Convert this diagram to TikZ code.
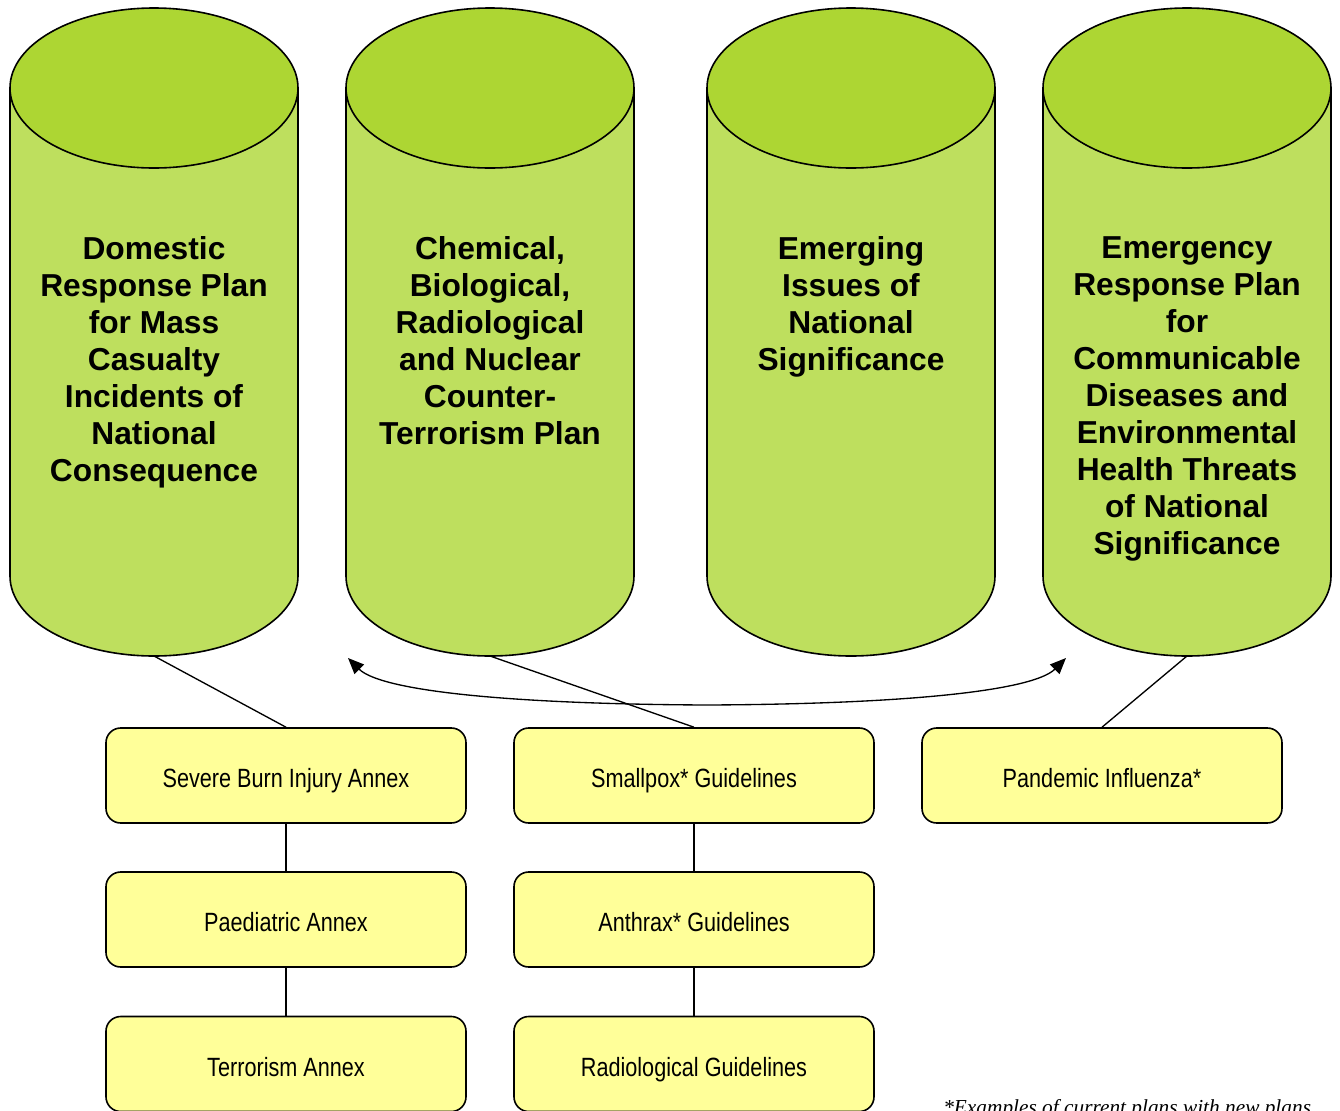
\documentclass[tikz,border=0pt]{standalone}
\usepackage{fontspec}
\setmainfont{Liberation Sans}
\newfontfamily\narrowfont[FakeStretch=0.82]{Liberation Sans}
\newfontfamily\notefont{Liberation Serif}
\usetikzlibrary{arrows.meta}

\definecolor{cyltop}{RGB}{173,214,51}
\definecolor{cylbody}{RGB}{190,223,94}
\definecolor{annexfill}{RGB}{255,255,153}

\tikzset{
  plantext/.style={anchor=north, align=center, inner sep=0pt,
    font=\bfseries\fontsize{23.8}{27.75}\selectfont},
  annex/.style={draw, line width=1.2pt, fill=annexfill, rounded corners=11pt,
    minimum width=270pt, minimum height=71.25pt, inner sep=0pt,
    text height=18.5pt, text depth=0pt,
    font=\narrowfont\fontsize{19.8}{22}\selectfont},
  link/.style={line width=1pt}
}

\begin{document}
\begin{tikzpicture}[x=0.75pt,y=0.75pt,yscale=-1,xscale=1]
\useasboundingbox (0,0) rectangle (1340,1111);

%Shape: Cylinders
\foreach \cx/\nm in {154/c1,490/c2,851/c3,1187/c4}{
  \draw [line width=1.2pt, fill=cylbody] (\cx-144,88) -- (\cx-144,576)
    arc [start angle=180, end angle=0, x radius=144, y radius=80] -- (\cx+144,88) -- cycle;
  \draw [line width=1.2pt, fill=cyltop] (\cx,88) ellipse [x radius=144, y radius=80];
  \coordinate (\nm) at (\cx,656);
}

% Text Node
\node [plantext] (t1) at (154,236) {Domestic\\Response Plan\\for Mass\\Casualty\\Incidents of\\National\\Consequence};
% Text Node
\node [plantext] (t2) at (490,236) {Chemical,\\Biological,\\Radiological\\and Nuclear\\Counter-\\Terrorism Plan};
% Text Node
\node [plantext] (t3) at (851,236) {Emerging\\Issues of\\National\\Significance};
% Text Node
\node [plantext] (t4) at (1187,236) {Emergency\\Response Plan\\for\\Communicable\\Diseases and\\Environmental\\Health Threats\\of National\\Significance};

%Shape: Annex boxes
\node [annex] (burn) at (286,775.5) {Severe Burn Injury Annex};
\node [annex] (paed) at (286,919.5) {Paediatric Annex};
\node [annex] (terror) at (286,1064) {Terrorism Annex};
\node [annex] (smallpox) at (694,775.5) {Smallpox* Guidelines};
\node [annex] (anthrax) at (694,919.5) {Anthrax* Guidelines};
\node [annex] (radio) at (694,1064) {Radiological Guidelines};
\node [annex] (flu) at (1102,775.5) {Pandemic Influenza*};

%Straight Lines
\draw [link] (c1) -- (burn.north);
\draw [link] (c2) -- (smallpox.north);
\draw [link] (c4) -- (flu.north);
\draw [link] (burn) -- (paed);
\draw [link] (paed) -- (terror);
\draw [link] (smallpox) -- (anthrax);
\draw [link] (anthrax) -- (radio);

%Curve Lines
\coordinate (al) at (348,658);
\coordinate (ar) at (1066,658);
\draw [link, {Triangle[length=12pt,width=10pt]}-{Triangle[length=12pt,width=10pt]}] (al) .. controls (380,690) and (500,704) .. (707,705) .. controls (914,704) and (1034,690) .. (ar);

% Text Node
\node [anchor=base west, inner sep=0pt, font=\notefont\itshape\fontsize{16}{19}\selectfont] (note) at (943,1114) {*Examples of current plans with new plans};

\end{tikzpicture}
\end{document}
